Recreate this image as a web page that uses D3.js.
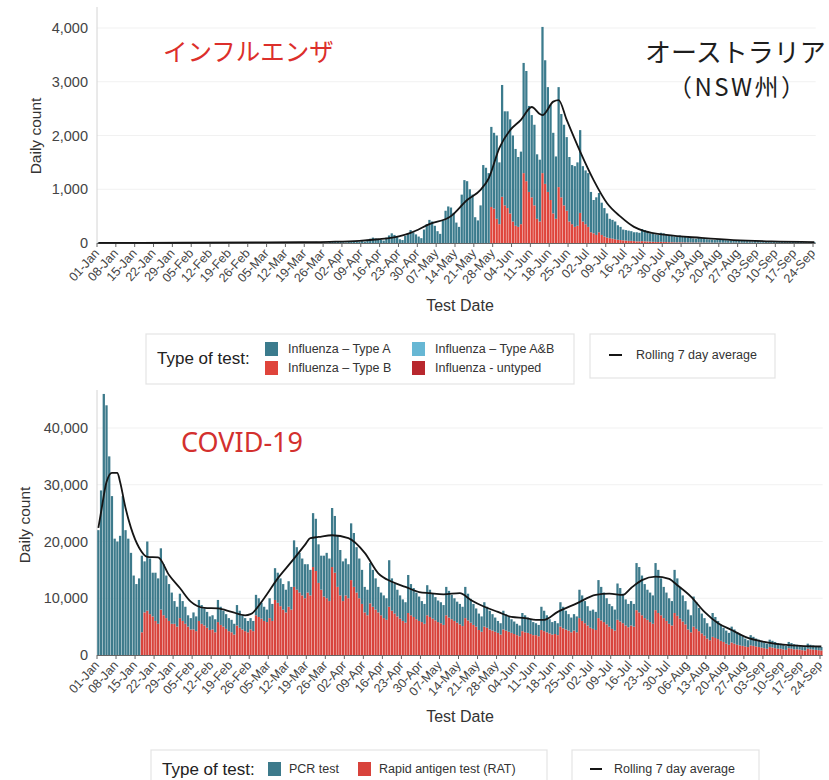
<!DOCTYPE html>
<html><head><meta charset="utf-8">
<script src="https://cdn.jsdelivr.net/npm/d3@7"></script>
<style>
body{margin:0;background:#fff}
svg text{font-family:"Liberation Sans",Arial,sans-serif}
</style>
</head><body>
<svg id="c" width="829" height="780"></svg>
<script>
// ---------- DATA ----------
const tickLabels = ["01-Jan","08-Jan","15-Jan","22-Jan","29-Jan","05-Feb","12-Feb","19-Feb","26-Feb","05-Mar","12-Mar","19-Mar","26-Mar","02-Apr","09-Apr","16-Apr","23-Apr","30-Apr","07-May","14-May","21-May","28-May","04-Jun","11-Jun","18-Jun","25-Jun","02-Jul","09-Jul","16-Jul","23-Jul","30-Jul","06-Aug","13-Aug","20-Aug","27-Aug","03-Sep","10-Sep","17-Sep","24-Sep"];
const firstDay = "2022-01-01";
const fluYTicks = [0,1000,2000,3000,4000];
const covidYTicks = [0,10000,20000,30000,40000];
const fluLegend = ["Influenza \u2013 Type A","Influenza \u2013 Type B","Influenza \u2013 Type A&B","Influenza - untyped"];
const covidLegend = ["PCR test","Rapid antigen test (RAT)"];

// Influenza daily counts (weeks start Saturday)
const fluTypeA = [
4,3,5,6,7,6,5,
4,3,6,7,8,7,5,
4,3,6,8,8,7,6,
5,4,7,8,9,8,6,
5,4,7,9,10,8,7,
5,4,8,10,11,9,7,
6,5,9,11,12,10,8,
6,5,9,12,13,11,9,
7,5,10,13,14,12,10,
8,6,12,15,16,14,11,
9,7,13,17,19,16,13,
10,8,15,20,22,18,15,
12,9,18,24,27,22,18,
15,11,24,32,38,30,24,
35,25,60,80,100,85,70,
60,45,100,140,180,150,120,
70,55,130,180,240,200,160,
120,90,250,350,430,400,320,
220,170,420,600,680,660,560,
380,300,900,1170,1150,1000,900,
480,420,700,1450,1400,1300,1490,
1410,1550,1150,2080,1750,1800,1750,
1600,1430,1300,1350,2050,2050,1600,
1530,1500,1200,1150,2720,2300,1950,
1770,1500,1160,1860,1550,1500,1370,
1200,1100,1130,1180,1540,1030,1000,
1000,750,620,700,730,600,530,
450,360,350,330,270,245,200,
195,190,180,165,170,160,225,
210,192,155,148,140,132,168,
160,142,125,116,108,99,127,
118,104,90,86,77,72,91,
82,73,63,59,54,50,64,
59,53,47,44,41,36,45,
42,38,35,32,30,27,35,
32,29,26,25,23,21,27,
25,23,21,19,18,16,21,
19,17,17,16,15,14,18,
16];
const fluTypeB = [
0,0,0,0,0,0,0, 0,0,0,0,0,0,0, 0,0,0,0,0,0,0, 0,0,0,0,0,0,0, 0,0,0,0,0,0,0,
0,0,0,0,0,0,0, 0,0,0,0,0,0,0, 0,0,0,0,0,0,0, 0,0,0,0,0,0,0, 0,0,0,0,0,0,0,
0,0,0,0,0,0,0, 0,0,0,0,0,0,0, 0,0,0,0,0,0,0, 0,0,0,0,0,0,0, 0,0,0,0,0,0,0,
0,0,0,0,0,0,0, 0,0,0,0,0,0,0, 0,0,0,0,0,0,0, 0,0,0,0,0,0,0, 0,0,0,0,0,0,0,
0,0,0,0,0,0,670,
640,450,350,860,700,650,550,
400,320,300,350,1300,1150,950,
850,700,450,400,1300,1100,950,
800,550,450,1040,850,700,600,
400,350,300,320,560,400,350,
300,200,180,150,200,150,120,
100,90,80,70,60,55,50,
45,40,40,35,30,30,35,
30,28,25,22,20,18,22,
20,18,15,14,12,11,13,
12,11,10,9,8,8,9,
8,7,7,6,6,5,6,
6,5,5,4,4,4,5,
4,4,3,3,3,3,3,
3,3,3,2,2,2,2,
2,2,2,2,2,2,2,
2,2,1,1,1,1,1,
1];
const fluAvgDates = ["2022-01-01","2022-02-01","2022-03-01","2022-03-17","2022-03-28","2022-04-08","2022-04-15","2022-04-23","2022-04-27","2022-05-04","2022-05-12","2022-05-18","2022-05-23","2022-05-26","2022-05-30","2022-06-03","2022-06-07","2022-06-11","2022-06-14","2022-06-15","2022-06-19","2022-06-21","2022-06-24","2022-06-29","2022-07-04","2022-07-09","2022-07-14","2022-07-19","2022-07-23","2022-07-31","2022-08-13","2022-08-25","2022-09-08","2022-09-24"];
const fluAvgValues = [3,5,10,15,22,40,70,130,190,350,500,800,990,1200,1770,2100,2290,2530,2400,2380,2630,2660,2290,1700,1170,740,490,300,220,150,95,55,30,18];

// COVID-19 daily tests
const covidPCR = [
22000,29000,46000,44000,35000,28000,20500,
20000,21000,28000,22000,20500,18000,14000,
12500,13500,13500,9000,12200,9800,7700,
8500,8000,10800,9000,7500,6500,5500,
4000,3500,4300,3500,3000,2000,2000,
3000,2600,3700,3300,3000,2800,2400,
2500,2300,3900,3200,2800,2600,2300,
2200,1900,3600,3000,2500,2300,2000,
2000,1800,3600,3300,2800,2500,2200,
3500,3000,5600,5300,4900,4500,4000,
4500,4000,8200,7500,7000,6500,6000,
5000,4500,9500,9200,6800,6000,7200,
8000,7500,10400,10000,9000,8000,7000,
6500,6000,10000,9500,8000,7000,6000,
4500,4500,7100,6500,5500,4500,4000,
4000,3800,8200,5700,5200,4700,4100,
3800,3600,6700,5500,5100,4700,4300,
3700,3500,5300,4800,4400,4100,3800,
3700,3500,5000,4700,4300,4000,3700,
3600,3400,5500,4700,4200,3700,3200,
2900,2700,4300,3700,3300,2900,2500,
2100,2000,3300,2900,2700,2400,2200,
2000,1900,3200,3000,2700,2500,2300,
2100,2000,4100,3600,3000,2500,2200,
2300,2100,4300,3800,3300,2900,2600,
2900,2800,5000,4500,3900,3400,3000,
3400,3200,6700,5900,5200,4600,4000,
4000,3700,6400,5900,5200,4600,4100,
4300,4000,8300,8000,7000,6000,5300,
5200,5000,8300,7600,6500,5500,5000,
4500,4300,7600,6600,5600,4600,4100,
3500,3000,5300,4700,4100,3500,3100,
2700,2400,4200,3700,3200,2800,2500,
2300,2100,2800,2500,2200,1900,1700,
1400,1200,1800,1600,1400,1300,1200,
1000,900,1300,1200,1100,1000,900,
800,700,1100,1000,900,800,750,
650,600,900,800,750,700,650,
600];
const covidRAT = [
0,0,0,0,0,0,0,
0,0,0,0,0,0,0,
0,0,4000,7500,7800,7200,6800,
6000,5500,8000,7000,6500,6000,5500,
5500,5000,6500,6000,5500,5000,4500,
4500,4200,6000,5500,5200,4800,4400,
4500,4000,5800,5300,5000,4600,4200,
4000,3600,5200,4800,4500,4200,4000,
4500,4200,7000,6700,6400,6000,5800,
6500,6000,9700,9200,8600,8000,7500,
8500,8000,12000,11500,11000,10500,10000,
11000,10500,15500,14800,12700,11500,10300,
10000,9500,15500,14500,12000,10500,9500,
10500,10000,13200,12000,11000,10000,9000,
7500,7000,9100,8500,8000,7500,7000,
6500,6200,8500,7800,7300,6800,6400,
6000,5700,7400,7000,6700,6300,6000,
5800,5500,7000,6700,6400,6100,5800,
5600,5300,7000,6600,6300,6000,5700,
5400,5100,6500,6100,5700,5300,5000,
4400,4100,5000,4800,4500,4300,4100,
3900,3600,4500,4300,4100,3900,3700,
3500,3300,4200,4000,3900,3700,3500,
3500,3300,4400,4200,4000,3800,3600,
3700,3500,5000,4700,4500,4300,4000,
4300,4000,6500,6000,5600,5200,4800,
4600,4400,6500,6100,5800,5400,5000,
4600,4300,6200,5900,5600,5200,4900,
5200,5000,7900,7500,7000,6500,6200,
5800,5500,7900,7400,7000,6500,6000,
5500,5200,7400,6900,6400,5900,5400,
4500,4000,5000,4600,4200,3800,3400,
2900,2600,3200,3000,2800,2500,2300,
2000,1800,2200,2000,1800,1700,1600,
1500,1400,1700,1600,1500,1400,1300,
1200,1100,1400,1300,1200,1100,1100,
1000,900,1200,1100,1000,1000,950,
850,800,1100,1000,950,900,850,
800];
const covidAvgDates = ["2022-01-01","2022-01-02","2022-01-04","2022-01-06","2022-01-08","2022-01-09","2022-01-11","2022-01-13","2022-01-16","2022-01-19","2022-01-23","2022-01-27","2022-01-31","2022-02-04","2022-02-09","2022-02-14","2022-02-19","2022-02-24","2022-02-26","2022-03-03","2022-03-08","2022-03-13","2022-03-18","2022-03-20","2022-03-23","2022-03-28","2022-04-03","2022-04-09","2022-04-14","2022-04-19","2022-04-24","2022-04-29","2022-05-03","2022-05-08","2022-05-14","2022-05-18","2022-05-23","2022-05-28","2022-06-02","2022-06-07","2022-06-11","2022-06-14","2022-06-19","2022-06-26","2022-07-03","2022-07-08","2022-07-13","2022-07-16","2022-07-20","2022-07-25","2022-07-30","2022-08-02","2022-08-07","2022-08-12","2022-08-17","2022-08-22","2022-08-27","2022-09-03","2022-09-13","2022-09-24"];
const covidAvgValues = [22400,25200,30500,32100,32100,30500,25900,22400,18900,17300,17200,14100,11800,9400,8300,8200,7600,7000,7200,10000,13500,16400,19400,20600,20800,21100,20600,18000,14400,12900,12000,11100,10900,10700,10900,9700,8500,7600,6700,6500,6200,6200,7600,9100,10600,10800,10600,11800,13200,13800,13400,12300,10300,7600,5600,4400,3200,2300,1700,1500];

// ---------- DRAW ----------
const svg = d3.select("#c");
const parseDay = d3.utcParse("%Y-%m-%d");
const start = parseDay(firstDay);
const tickDates = tickLabels.map(l => d3.utcParse("%d-%b-%Y")(l + "-2022"));
const fmt = d3.format(",");
const COL = {teal:"#3b7b8d", red:"#df443b", light:"#67b7d4", dark:"#b8282e"};

function drawPanel(o){
  const g = svg.append("g");
  const n = o.series[0].values.length;
  const days = d3.range(n).map(i => d3.utcDay.offset(start, i));
  const x = d3.scaleUtc().domain([start, tickDates[tickDates.length-1]]).range([o.xLeft, o.xLastTick]);
  const y = d3.scaleLinear().domain([0, o.yTicks[o.yTicks.length-1]]).range([o.yZero, o.yTopTick]);
  const xEnd = x(d3.utcDay.offset(start, n));

  g.selectAll("line.grid").data(o.yTicks.slice(1)).join("line").attr("class","grid")
    .attr("x1", o.xLeft).attr("x2", xEnd).attr("y1", d=>y(d)).attr("y2", d=>y(d))
    .attr("stroke","#f1f1f1").attr("stroke-width",1);
  g.append("line").attr("x1",o.xLeft).attr("x2",o.xLeft).attr("y1",o.axisTop).attr("y2",o.yZero)
    .attr("stroke","#d4d4d4");

  const rows = days.map((d,i)=>{const r={date:d}; o.series.forEach(s=>r[s.key]=s.values[i]); return r;});
  const layers = d3.stack().keys(o.series.map(s=>s.key))(rows);
  layers.forEach((layer,li)=>{
    g.append("g").attr("fill", o.series[li].color)
      .selectAll("rect").data(layer).join("rect")
      .attr("x", d=>{const a=x(d.data.date), b=x(d3.utcDay.offset(d.data.date,1)); return a+(b-a)*0.08;})
      .attr("width", d=>{const a=x(d.data.date), b=x(d3.utcDay.offset(d.data.date,1)); return (b-a)*0.84;})
      .attr("y", d=>y(d[1]))
      .attr("height", d=>Math.max(0, y(d[0])-y(d[1])));
  });

  // baseline + ticks
  g.append("line").attr("x1",o.xLeft).attr("x2",xEnd).attr("y1",o.yZero+0.5).attr("y2",o.yZero+0.5)
    .attr("stroke","#666").attr("stroke-width",1);
  g.selectAll("line.xt").data(tickDates).join("line").attr("class","xt")
    .attr("x1",d=>x(d)).attr("x2",d=>x(d)).attr("y1",o.yZero).attr("y2",o.yZero+4)
    .attr("stroke","#666");
  g.selectAll("text.xl").data(tickLabels).join("text").attr("class","xl")
    .attr("transform",(d,i)=>`translate(${x(tickDates[i])},${o.yZero+8}) rotate(-48)`)
    .attr("text-anchor","end").attr("dy","0.32em")
    .attr("font-size",12.5).attr("fill","#444").text(d=>d);

  // y labels
  g.selectAll("text.yl").data(o.yTicks).join("text").attr("class","yl")
    .attr("x",88).attr("y",d=>y(d)).attr("dy","0.35em").attr("text-anchor","end")
    .attr("font-size",14.5).attr("fill","#444").text(d=>fmt(d));
  g.append("text").attr("transform",`translate(${o.yTitleX},${o.yTitleY}) rotate(-90)`)
    .attr("text-anchor","middle").attr("dy","0.35em").attr("font-size",15.5).attr("fill","#333")
    .text("Daily count");
  g.append("text").attr("x",460).attr("y",o.xTitleY).attr("text-anchor","middle").attr("dy","0.35em")
    .attr("font-size",16).attr("fill","#333").text("Test Date");

  // rolling average
  const line = d3.line()
    .x(d=>x(d.date)+ (x(d3.utcDay.offset(d.date,1))-x(d.date))/2)
    .y(d=>y(d.v)).curve(d3.curveMonotoneX);
  const avg = o.avgDates.map((s,i)=>({date:parseDay(s), v:o.avgValues[i]}));
  g.append("path").datum(avg).attr("d",line).attr("fill","none")
    .attr("stroke","#151515").attr("stroke-width",1.8).attr("stroke-linejoin","round");
}

drawPanel({
  xLeft:97, xLastTick:813, yZero:243, yTopTick:28, axisTop:7, yTicks:fluYTicks,
  yTitleX:36, yTitleY:136, xTitleY:305,
  series:[{key:"B", values:fluTypeB, color:COL.red},{key:"A", values:fluTypeA, color:COL.teal}],
  avgDates:fluAvgDates, avgValues:fluAvgValues
});
drawPanel({
  xLeft:97, xLastTick:820, yZero:655, yTopTick:428, axisTop:390, yTicks:covidYTicks,
  yTitleX:25, yTitleY:525, xTitleY:716,
  series:[{key:"RAT", values:covidRAT, color:"#d8433c"},{key:"PCR", values:covidPCR, color:"#3d7a8b"}],
  avgDates:covidAvgDates, avgValues:covidAvgValues
});

// titles
svg.append("text").attr("x",163).attr("y",61).attr("font-size",24.5).attr("fill","#dc2f2b")
  .style("font-family","'Noto Sans CJK JP'").text("インフルエンザ");
svg.append("text").attr("x",645).attr("y",62).attr("font-size",26).attr("fill","#1e1e1e")
  .style("font-family","'Noto Sans CJK JP'").text("オーストラリア");
svg.append("text").attr("x",668).attr("y",96).attr("font-size",24).attr("fill","#1e1e1e")
  .attr("textLength",137).attr("lengthAdjust","spacing")
  .style("font-family","'Noto Sans CJK JP'").text("（NSW州）");
svg.append("text").attr("x",181).attr("y",452).attr("font-size",27).attr("fill","#d3302e")
  .style("font-family","'Noto Sans'").text("COVID-19");

// legends
function legendBox(x,y,w,h){
  svg.append("rect").attr("x",x).attr("y",y).attr("width",w).attr("height",h)
    .attr("fill","#fff").attr("stroke","#e4e4e4").attr("stroke-width",1.2);
}
// top legend
legendBox(146,334,428,50);
legendBox(590,334,185,44);
svg.append("text").attr("x",157).attr("y",358).attr("dy","0.35em").attr("font-size",17).attr("fill","#222").text("Type of test:");
const fluLegCols = [COL.teal, COL.red, COL.light, COL.dark];
const fluLegPos = [[265,349],[265,368],[412,349],[412,368]];
fluLegend.forEach((t,i)=>{
  const [lx,ly]=fluLegPos[i];
  svg.append("rect").attr("x",lx).attr("y",ly-7).attr("width",13).attr("height",14).attr("fill",fluLegCols[i]);
  svg.append("text").attr("x",lx+23).attr("y",ly).attr("dy","0.35em").attr("font-size",12.5).attr("fill","#333").text(t);
});
svg.append("line").attr("x1",609).attr("x2",622).attr("y1",355).attr("y2",355).attr("stroke","#151515").attr("stroke-width",2);
svg.append("text").attr("x",636).attr("y",355).attr("dy","0.35em").attr("font-size",12.5).attr("fill","#333").text("Rolling 7 day average");

// bottom legend
legendBox(151,750,396,40);
legendBox(572,750,187,40);
svg.append("text").attr("x",162).attr("y",769).attr("dy","0.35em").attr("font-size",17).attr("fill","#222").text("Type of test:");
const covLegCols = ["#3d7a8b","#d8433c"];
const covLegX = [268, 358];
covidLegend.forEach((t,i)=>{
  svg.append("rect").attr("x",covLegX[i]).attr("y",762).attr("width",13).attr("height",14).attr("fill",covLegCols[i]);
  svg.append("text").attr("x",covLegX[i]+21).attr("y",769).attr("dy","0.35em").attr("font-size",12.5).attr("fill","#333").text(t);
});
svg.append("line").attr("x1",590).attr("x2",602).attr("y1",769).attr("y2",769).attr("stroke","#151515").attr("stroke-width",2);
svg.append("text").attr("x",614).attr("y",769).attr("dy","0.35em").attr("font-size",12.5).attr("fill","#333").text("Rolling 7 day average");
</script>
</body></html>
